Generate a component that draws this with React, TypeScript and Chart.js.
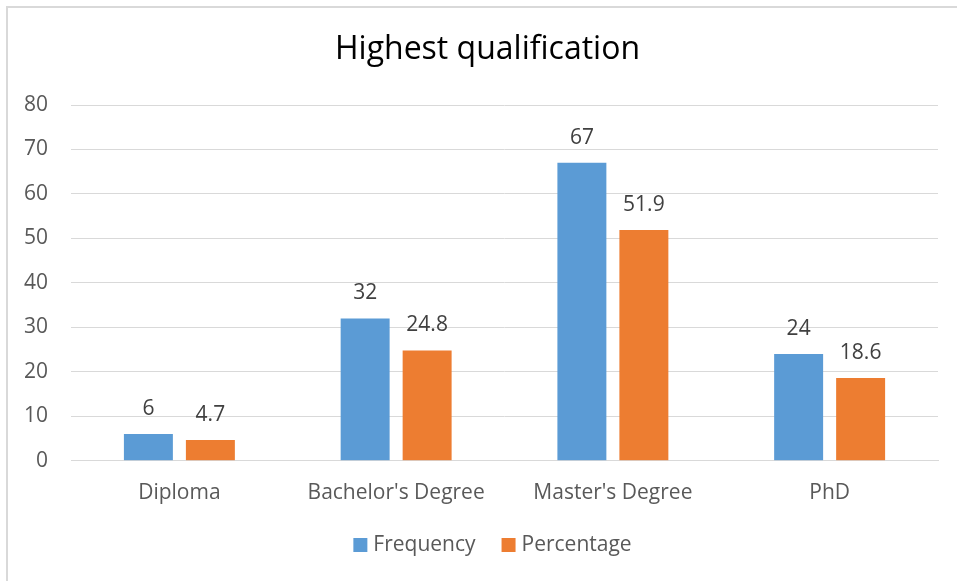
import React, { useEffect, useRef } from "react";
import { Chart, registerables } from "chart.js";

Chart.register(...registerables);

const categories = ["Diploma", "Bachelor's Degree", "Master's Degree", "PhD"];
const frequency = [6, 32, 67, 24];
const percentage = [4.7, 24.8, 51.9, 18.6];
const seriesNames = ["Frequency", "Percentage"];
const seriesColors = ["#5B9BD5", "#ED7D31"];
const titleText = "Highest qualification";

const FONT = "'Open Sans', sans-serif";

const dataLabels = {
  id: "dataLabels",
  afterDatasetsDraw(chart: any) {
    const ctx = chart.ctx;
    ctx.save();
    ctx.font = `21px ${FONT}`;
    ctx.fillStyle = "#404040";
    ctx.textAlign = "center";
    ctx.textBaseline = "middle";
    chart.data.datasets.forEach((ds: any, i: number) => {
      const meta = chart.getDatasetMeta(i);
      meta.data.forEach((bar: any, j: number) => {
        ctx.fillText(String(ds.data[j]), bar.x, bar.y - 25);
      });
    });
    ctx.restore();
  },
};

const titleAndLegend = {
  id: "titleAndLegend",
  afterDraw(chart: any) {
    const ctx = chart.ctx;
    ctx.save();
    // title
    ctx.font = `32px ${FONT}`;
    ctx.fillStyle = "#000000";
    ctx.textAlign = "center";
    ctx.textBaseline = "middle";
    ctx.fillText(titleText, chart.width / 2 + 9, 50);
    // legend
    ctx.font = `21px ${FONT}`;
    ctx.textAlign = "left";
    const box = 14;
    const gap = 6;
    const itemGap = 26;
    const widths = chart.data.datasets.map((ds: any) => box + gap + ctx.measureText(ds.label).width);
    const total = widths.reduce((a: number, b: number) => a + b, 0) + itemGap * (widths.length - 1);
    let x = chart.width / 2 + 14 - total / 2;
    const y = chart.height - 36;
    chart.data.datasets.forEach((ds: any, i: number) => {
      ctx.fillStyle = ds.backgroundColor;
      ctx.fillRect(x, y - box / 2, box, box);
      ctx.fillStyle = "#595959";
      ctx.fillText(ds.label, x + box + gap, y);
      x += widths[i] + itemGap;
    });
    ctx.restore();
  },
};

export default function App() {
  const ref = useRef<HTMLCanvasElement>(null);
  useEffect(() => {
    document.body.style.margin = "0";
    const chart = new Chart(ref.current!, {
      type: "bar",
      data: {
        labels: categories,
        datasets: [
          { label: seriesNames[0], data: frequency, backgroundColor: seriesColors[0] },
          { label: seriesNames[1], data: percentage, backgroundColor: seriesColors[1] },
        ],
      },
      plugins: [dataLabels, titleAndLegend],
      options: {
        animation: false,
        responsive: false,
        devicePixelRatio: 1,
        categoryPercentage: 0.572,
        barPercentage: 0.79,
        layout: { padding: { left: 1, right: 19, top: 105, bottom: 55 } },
        plugins: {
          title: { display: false },
          legend: { display: false },
          tooltip: { enabled: false },
        },
        scales: {
          x: {
            grid: { display: false, drawTicks: false },
            border: { color: "#d9d9d9", width: 1 },
            ticks: { color: "#595959", font: { family: FONT, size: 21 }, padding: 20 },
          },
          y: {
            min: 0,
            max: 80,
            ticks: { stepSize: 10, color: "#595959", font: { family: FONT, size: 21 }, padding: 23 },
            grid: { color: "#d9d9d9", drawTicks: false },
            border: { display: false },
          },
        },
      },
    });
    return () => chart.destroy();
  }, []);
  return (
    <div style={{ position: "relative", width: 957, height: 581, overflow: "hidden", background: "#fff" }}>
      <div
        style={{
          position: "absolute",
          left: 6,
          top: 6,
          width: 1000,
          height: 700,
          border: "2px solid #d9d9d9",
          boxSizing: "border-box",
        }}
      />
      <canvas ref={ref} width={957} height={581} style={{ position: "absolute", left: 0, top: 0 }} />
    </div>
  );
}
